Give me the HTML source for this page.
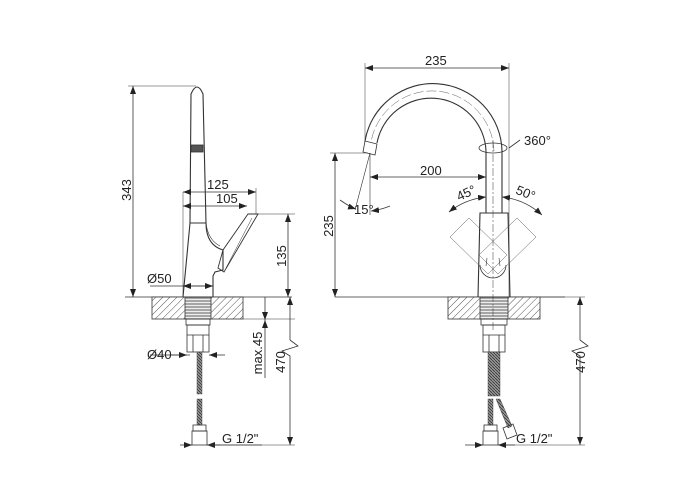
<!DOCTYPE html>
<html><head><meta charset="utf-8"><style>html,body{margin:0;padding:0;background:#fff}svg{display:block}text{font-family:"Liberation Sans",sans-serif;fill:#222}</style></head>
<body>
<svg width="700" height="500" viewBox="0 0 700 500" xmlns="http://www.w3.org/2000/svg">
<defs>
<pattern id="h" width="5" height="5" patternUnits="userSpaceOnUse" patternTransform="rotate(45)"><rect width="5" height="5" fill="#fff"/><line x1="0" y1="0" x2="0" y2="5" stroke="#555" stroke-width="1"/></pattern>
<pattern id="g" width="4" height="3" patternUnits="userSpaceOnUse"><rect width="4" height="3" fill="#eee"/><line x1="0" y1="1" x2="4" y2="1" stroke="#777" stroke-width="1.2"/></pattern>
<pattern id="b" width="3" height="3" patternUnits="userSpaceOnUse"><rect width="3" height="3" fill="#999"/><path d="M0 0L3 3" stroke="#333" stroke-width="0.8"/></pattern>
<marker id="a" markerWidth="8" markerHeight="6" refX="8" refY="3" orient="auto-start-reverse" markerUnits="userSpaceOnUse"><path d="M0 0L8 3L0 6z" fill="#222"/></marker>
</defs>
<g fill="none" stroke="#333" stroke-width="0.8">
<!-- LEFT VIEW -->
<line x1="125" y1="297" x2="292" y2="297"/>
<line x1="128" y1="86" x2="196" y2="86" stroke-width="0.5"/>
<line x1="133" y1="86" x2="133" y2="297" marker-start="url(#a)" marker-end="url(#a)"/>
<rect x="152" y="297" width="91" height="22" fill="url(#h)"/>
<rect x="185" y="297" width="26" height="22" fill="url(#g)"/>
<path d="M190 223 L191 94 Q197 80 203 94 L206 223" stroke-width="1.1"/>
<rect x="191" y="145" width="12" height="7" fill="#555"/>
<path d="M183 297 L190 223 L206 223 Q206 245 223 250 L223 270 L215 272 L213 276 L213 297" stroke-width="1.1"/>
<path d="M206 223 Q208 240 220 246" stroke-width="0.6"/>
<path d="M223 250 L218 268 L224 272 L258 214 L248 214 Z" stroke-width="0.9"/>
<path d="M226 268 L252 218" stroke-width="0.5"/>
<line x1="183" y1="192" x2="183" y2="297" stroke-width="0.5"/>
<line x1="183" y1="192" x2="256" y2="192" marker-start="url(#a)" marker-end="url(#a)"/>
<line x1="256" y1="188" x2="256" y2="214" stroke-width="0.5"/>
<line x1="183" y1="206" x2="247" y2="206" marker-start="url(#a)" marker-end="url(#a)"/>
<line x1="258" y1="214" x2="295" y2="214" stroke-width="0.5"/>
<line x1="288" y1="214" x2="288" y2="297" marker-start="url(#a)" marker-end="url(#a)"/>
<line x1="150" y1="286" x2="213" y2="286"/>
<line x1="183" y1="286" x2="200" y2="286" marker-start="url(#a)"/>
<line x1="199" y1="286" x2="213" y2="286" marker-end="url(#a)"/>
<rect x="186" y="319" width="24" height="6"/>
<rect x="187" y="325" width="22" height="27"/>
<line x1="193" y1="335" x2="193" y2="352"/><line x1="203" y1="335" x2="203" y2="352"/><line x1="187" y1="335" x2="209" y2="335"/>
<rect x="197" y="352" width="5" height="42" fill="url(#b)" stroke-width="0.4"/>
<rect x="197" y="399" width="5" height="26" fill="url(#b)" stroke-width="0.4"/>
<rect x="193" y="425" width="13" height="6"/>
<rect x="192" y="431" width="15" height="14"/>
<line x1="265" y1="320" x2="265" y2="378" marker-start="url(#a)"/>
<line x1="265" y1="297" x2="265" y2="320" marker-end="url(#a)"/>
<line x1="243" y1="319" x2="295" y2="319" stroke-width="0.5"/>
<line x1="290" y1="297" x2="290" y2="340" marker-start="url(#a)"/>
<path d="M290 340 L298 346 L282 351 L290 356 L290 445" marker-end="url(#a)"/>
<line x1="207" y1="445" x2="295" y2="445" stroke-width="0.5"/>
<line x1="150" y1="355" x2="190" y2="355"/>
<line x1="170" y1="355" x2="187" y2="355" marker-end="url(#a)"/>
<line x1="225" y1="355" x2="209" y2="355" marker-end="url(#a)"/>
<line x1="180" y1="445" x2="192" y2="445" marker-end="url(#a)"/>
<line x1="220" y1="445" x2="207" y2="445" marker-end="url(#a)"/>
<line x1="207" y1="445" x2="262" y2="445"/>
<!-- RIGHT VIEW -->
<line x1="335" y1="297" x2="565" y2="297"/>
<rect x="448" y="297" width="92" height="22" fill="url(#h)"/>
<rect x="480" y="297" width="28" height="22" fill="url(#g)"/>
<line x1="493" y1="140" x2="493" y2="330" stroke-dasharray="8 2 2 2" stroke-width="0.5"/>
<path d="M486 213 L486 151 A55 55 0 0 0 377 143" stroke-width="1.1"/>
<path d="M502 213 L502 151 A69 69 0 0 0 365 141" stroke-width="1.1"/>
<path d="M494 151 A62 62 0 0 0 371 142" stroke-width="0.4" stroke-dasharray="10 3"/>
<path d="M365 141 L377 144 L375 155 L363 152 Z"/>
<path d="M478 297 L480 213 L508 213 L510 297" stroke-width="1.1"/>
<path d="M480 265 A13 13 0 0 0 506 265"/>
<line x1="487" y1="258" x2="486" y2="266" stroke-width="0.6"/>
<line x1="499" y1="258" x2="500" y2="266" stroke-width="0.6"/>
<g stroke-width="0.5" stroke="#555">
<polygon points="450,237 469,218 507,255 488,274"/>
<polygon points="536,237 517,218 479,255 498,274"/>
</g>
<line x1="365" y1="68" x2="509" y2="68" marker-start="url(#a)" marker-end="url(#a)"/>
<line x1="365" y1="63" x2="365" y2="140" stroke-width="0.5"/>
<line x1="509" y1="63" x2="509" y2="297" stroke-width="0.5"/>
<ellipse cx="493" cy="148" rx="14" ry="5"/>
<line x1="509" y1="148" x2="520" y2="140"/>
<line x1="370" y1="177" x2="486" y2="177" marker-start="url(#a)" marker-end="url(#a)"/>
<line x1="370" y1="153" x2="370" y2="215" stroke-width="0.6"/>
<line x1="370" y1="153" x2="355" y2="210" stroke-width="0.6"/>
<line x1="330" y1="153" x2="368" y2="153" stroke-width="0.5"/>
<line x1="335" y1="153" x2="335" y2="297" marker-start="url(#a)" marker-end="url(#a)"/>
<path d="M340 200 Q350 207 356 209" marker-end="url(#a)"/>
<path d="M390 206 Q380 210 371 211" marker-end="url(#a)"/>
<path d="M449 212 A71 71 0 0 1 486 197" marker-start="url(#a)" marker-end="url(#a)"/>
<path d="M502 197 A71 71 0 0 1 542 215" marker-start="url(#a)" marker-end="url(#a)"/>
<rect x="481" y="319" width="26" height="6"/>
<rect x="483" y="325" width="22" height="27"/>
<line x1="489" y1="335" x2="489" y2="352"/><line x1="499" y1="335" x2="499" y2="352"/><line x1="483" y1="335" x2="505" y2="335"/>
<rect x="488" y="352" width="12" height="44" fill="url(#b)" stroke-width="0.4"/>
<rect x="488" y="399" width="5" height="26" fill="url(#b)" stroke-width="0.4"/>
<path d="M496 399 L500 399 L512 426 L508 428 Z" fill="url(#b)" stroke-width="0.4"/>
<rect x="484" y="425" width="13" height="6"/>
<rect x="483" y="431" width="15" height="14"/>
<path d="M503 428 L513 424 L517 435 L507 439 Z"/>
<line x1="540" y1="297" x2="585" y2="297" stroke-width="0.5"/>
<line x1="580" y1="297" x2="580" y2="340" marker-start="url(#a)"/>
<path d="M580 340 L588 346 L572 351 L580 356 L580 445" marker-end="url(#a)"/>
<line x1="498" y1="445" x2="585" y2="445" stroke-width="0.5"/>
<line x1="465" y1="445" x2="483" y2="445" marker-end="url(#a)"/>
<line x1="515" y1="445" x2="498" y2="445" marker-end="url(#a)"/>
</g>
<g font-size="13">
<text transform="translate(131,190) rotate(-90)" text-anchor="middle">343</text>
<text x="207" y="189">125</text>
<text x="216" y="203">105</text>
<text transform="translate(286,256) rotate(-90)" text-anchor="middle">135</text>
<text x="147" y="283">Ø50</text>
<text x="147" y="359">Ø40</text>
<text transform="translate(262,353) rotate(-90)" text-anchor="middle">max.45</text>
<text transform="translate(285,362) rotate(-90)" text-anchor="middle">470</text>
<text x="222" y="443">G 1/2"</text>
<text x="425" y="65">235</text>
<text x="524" y="145">360°</text>
<text x="420" y="175">200</text>
<text transform="translate(333,226) rotate(-90)" text-anchor="middle">235</text>
<text x="354" y="214">15°</text>
<text transform="translate(468,197) rotate(-25)" text-anchor="middle">45°</text>
<text transform="translate(524,197) rotate(22)" text-anchor="middle">50°</text>
<text transform="translate(585,362) rotate(-90)" text-anchor="middle">470</text>
<text x="516" y="443">G 1/2"</text>
</g>
</svg>
</body></html>
